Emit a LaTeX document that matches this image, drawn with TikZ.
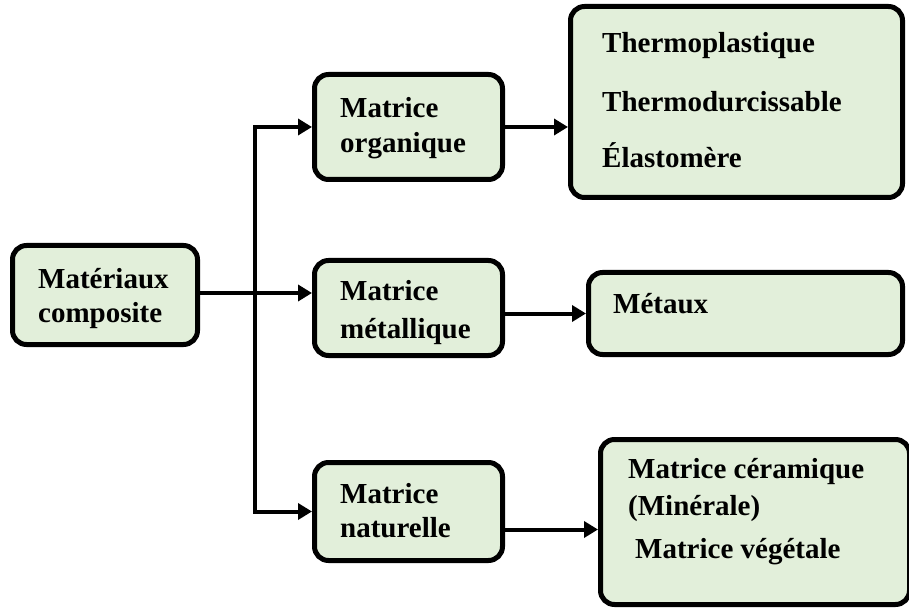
\documentclass[tikz,border=0pt]{standalone}
\usepackage{fontspec}
\setmainfont{Liberation Serif}
\usetikzlibrary{arrows.meta}
\definecolor{boxgreen}{HTML}{E2EFDA}

\begin{document}
\begin{tikzpicture}[x=1pt,y=-1pt,
  box/.style={draw=black, line width=5pt, rounded corners=14pt, fill=boxgreen, inner sep=0pt},
  txt/.style={anchor=base west, inner sep=0pt, font=\fontsize{29}{34}\selectfont\bfseries},
  arr/.style={line width=4pt, -{Triangle[length=14pt,width=16pt]}}]
\useasboundingbox (0,0) rectangle (909,609);

\node (comp) at (105,295) [box, minimum width=185pt, minimum height=99pt] {};
\node (org) at (408.5,127) [box, minimum width=188pt, minimum height=105pt] {};
\node (met) at (408.5,308) [box, minimum width=188pt, minimum height=95pt] {};
\node (nat) at (408.5,511.5) [box, minimum width=188pt, minimum height=98pt] {};
\node (orglist) at (736.5,102) [box, minimum width=332pt, minimum height=191pt] {};
\node (metlist) at (745.5,313.5) [box, minimum width=314pt, minimum height=82pt] {};
\node (natlist) at (755,522) [box, minimum width=309pt, minimum height=165pt] {};

\node (comp1) at (38,289) [txt] {Matériaux};
\node (comp2) at (38,322) [txt] {composite};
\node (org1) at (340,118) [txt] {Matrice};
\node (org2) at (340,153) [txt] {organique};
\node (met1) at (340,300) [txt] {Matrice};
\node (met2) at (340,338) [txt] {métallique};
\node (nat1) at (340,503) [txt] {Matrice};
\node (nat2) at (340,537) [txt] {naturelle};
\node (thp) at (602,53) [txt] {Thermoplastique};
\node (thd) at (602,112) [txt] {Thermodurcissable};
\node (ela) at (602,168) [txt] {Élastomère};
\node (mtx) at (613,313) [txt] {Métaux};
\node (cer) at (628,478) [txt] {Matrice céramique};
\node (mine) at (628,515) [txt] {(Minérale)};
\node (veg) at (635,558) [txt] {Matrice végétale};

\coordinate (split) at (255,293);
\draw[arr] (comp.east |- split) -- (split -| met.west);
\draw[arr] (split) |- (org.west);
\draw[arr] (split) |- (nat.west);
\draw[arr] (org.east) -- (org.east -| orglist.west);
\draw[arr] (metlist.west -| met.east) -- (metlist.west);
\draw[arr] ([yshift=-18pt]nat.east) -- ([yshift=-18pt]nat.east -| natlist.west);
\end{tikzpicture}
\end{document}
